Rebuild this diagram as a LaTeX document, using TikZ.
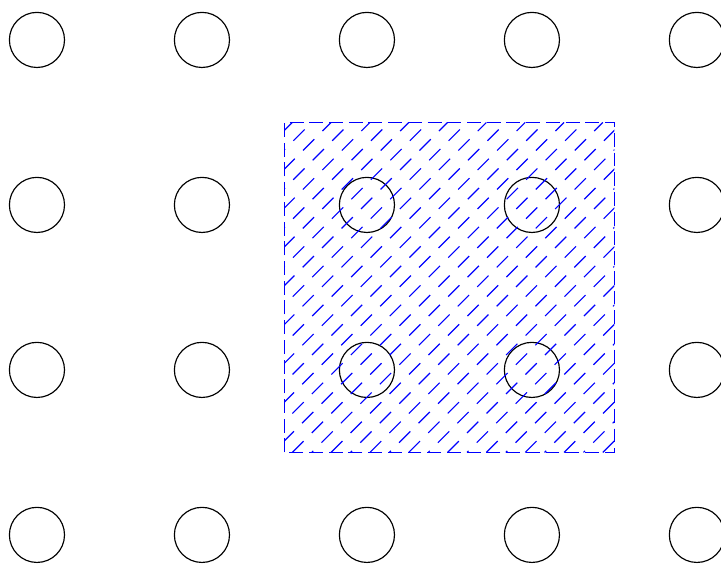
\documentclass[tikz,border=0pt]{standalone}
\usepackage{tikz}
\definecolor{hatchBlue}{RGB}{0, 0, 255}

\begin{document}
\begin{tikzpicture}[x=2cm, y=2cm]
        \useasboundingbox (-0.224,-0.176) rectangle (4.146,3.242);
        % lattice of holes
        \foreach \i in {0,...,4}
          \foreach \j in {0,...,3}
            \draw (\i,\j) circle (0.167);
        % hatched cell
        \begin{scope}
          \clip (1.5,0.5) rectangle (3.5,2.5);
          \foreach \k in {0,...,35}
            \draw[hatchBlue, dash pattern=on 5.5pt off 4pt, dash phase={mod(\k,2)*4.75pt}]
              ({3.43-\k*2/17},0.5) -- ++(2,2);
        \end{scope}
        \draw[hatchBlue, dash pattern=on 4.8pt off 2pt] (1.5,0.5) rectangle (3.5,2.5);
      \end{tikzpicture}
\end{document}
